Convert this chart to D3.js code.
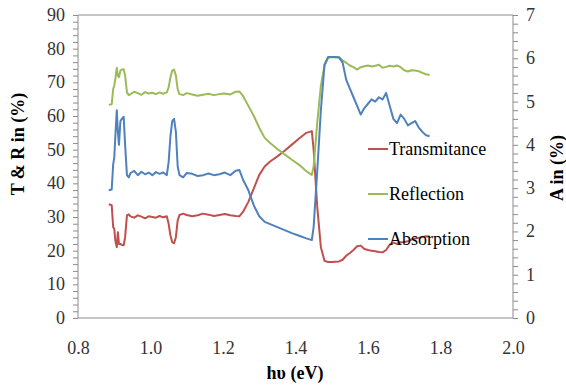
<!DOCTYPE html>
<html>
<head>
<meta charset="utf-8">
<script src="https://cdn.jsdelivr.net/npm/d3@7"></script>
<style>
  body { margin: 0; background: #fff; }
</style>
</head>
<body>
<script>
// photon energy (eV) shared by all three curves
const energy = [0.885, 0.893, 0.897, 0.900, 0.903, 0.907, 0.910, 0.913, 0.917, 0.921, 0.926, 0.930,
  0.935, 0.940, 0.945, 0.955, 0.965, 0.975, 0.985, 0.995, 1.005, 1.015, 1.025, 1.035, 1.045,
  1.050, 1.055, 1.060, 1.065, 1.070, 1.075, 1.080, 1.090, 1.100, 1.115, 1.130, 1.145, 1.160,
  1.175, 1.190, 1.205, 1.220, 1.235, 1.245, 1.255, 1.270, 1.285, 1.300, 1.315, 1.330, 1.350,
  1.370, 1.390, 1.410, 1.430, 1.445, 1.450, 1.460, 1.470, 1.480, 1.490, 1.500, 1.510, 1.520,
  1.530, 1.540, 1.550, 1.560, 1.570, 1.580, 1.590, 1.600, 1.610, 1.620, 1.630, 1.640, 1.650,
  1.660, 1.670, 1.680, 1.690, 1.700, 1.710, 1.720, 1.730, 1.740, 1.750, 1.760, 1.770];

// transmitance, left axis (%)
const transmitance = [33.8, 33.5, 27, 26.5, 23, 21, 25.5, 22, 22, 21.7, 21.6, 24,
  30.5, 30.8, 30.2, 29.8, 30.5, 30.1, 29.6, 30.2, 30.0, 29.8, 30.3, 29.9, 30.2,
  28, 24.5, 22.5, 22.2, 24, 29, 30.6, 31, 30.6, 30.2, 30.5, 31, 30.7,
  30.3, 30.6, 30.9, 30.5, 30.3, 30.2, 31.5, 34.5, 38.5, 42.5, 45, 46.5, 48,
  49.7, 51.5, 53.3, 55, 55.5, 50, 33, 21, 17, 16.6, 16.6, 16.7, 16.8,
  17.3, 18.5, 19.3, 20.2, 21.3, 21.5, 20.5, 20.2, 20, 19.8, 19.6, 19.5, 20.2,
  21.8, 22.4, 22, 22.5, 22.6, 22.8, 23.3, 23.6, 23.8, 24, 24.3, 24.2];

// reflection, left axis (%)
const reflection = [63.3, 63.5, 68, 69, 71, 74.3, 72, 71.5, 73.5, 73.8, 73.9, 72,
  67, 66.2, 66.5, 67.2, 66.8, 66.3, 67.1, 66.7, 66.9, 66.5, 67.0, 66.6, 67.0,
  68.5, 71.5, 73.5, 73.8, 72, 68, 66.5, 66.2, 66.8, 66.4, 66.0, 66.3, 66.6,
  66.2, 66.5, 66.7, 66.4, 67.2, 67.3, 66, 63, 60, 56.5, 53.5, 52, 50.2,
  48.6, 47, 45.5, 43.6, 42.5, 45, 58, 69, 75, 77.3, 77.5, 77.4, 77.5,
  76.5, 75.8, 75, 74.5, 73.8, 74.5, 74.8, 75, 74.7, 74.9, 75.2, 74.3, 74.6,
  74.9, 74.7, 75, 74.5, 73.6, 73.2, 73.6, 73.5, 73.3, 72.8, 72.4, 72.2];

// absorption, right axis (%)
const absorption = [2.95, 2.97, 3.55, 3.7, 4.2, 4.8, 4.3, 4.0, 4.55, 4.6, 4.65, 4.0,
  3.3, 3.25, 3.35, 3.4, 3.3, 3.38, 3.32, 3.36, 3.3, 3.37, 3.33, 3.36, 3.3,
  3.6, 4.2, 4.55, 4.6, 4.3, 3.5, 3.3, 3.25, 3.35, 3.33, 3.28, 3.3, 3.34,
  3.3, 3.32, 3.36, 3.3, 3.4, 3.42, 3.2, 2.95, 2.6, 2.35, 2.22, 2.17, 2.1,
  2.03, 1.96, 1.9, 1.84, 1.8, 2.1, 3.4, 4.8, 5.85, 6.03, 6.03, 6.03, 6.02,
  5.9, 5.5, 5.3, 5.1, 4.9, 4.7, 4.85, 4.95, 5.05, 5.0, 5.1, 5.05, 5.2,
  4.9, 4.6, 4.5, 4.7, 4.6, 4.45, 4.5, 4.55, 4.4, 4.3, 4.22, 4.2];

const xTicks = [0.8, 1.0, 1.2, 1.4, 1.6, 1.8, 2.0];
const leftTicks = [0, 10, 20, 30, 40, 50, 60, 70, 80, 90];
const rightTicks = [0, 1, 2, 3, 4, 5, 6, 7];

const width = 566, height = 385;
const pl = 78, pr = 513, pt = 15, pb = 318;   // plot box edges
const serif = "Liberation Serif";

const svg = d3.select("body").append("svg")
    .attr("width", width)
    .attr("height", height);

const x = d3.scaleLinear().domain([0.8, 2.0]).range([pl, pr]);
const yL = d3.scaleLinear().domain([0, 90]).range([pb, pt]);
const yR = d3.scaleLinear().domain([0, 7]).range([pb, pt]);

const axisCol = "#8c8c8c";
const labelCol = "#333";

// frame: top line
svg.append("line").attr("x1", pl).attr("x2", pr).attr("y1", pt).attr("y2", pt)
    .style("stroke", axisCol);

// left axis, minor ticks every 2
const gl = svg.append("g").attr("transform", `translate(${pl},0)`)
    .call(d3.axisLeft(yL).tickValues(d3.range(0, 91, 2)).tickSize(5).tickFormat(""));
gl.selectAll("line, path").style("stroke", axisCol);
gl.select(".domain").attr("d", `M0,${pt}V${pb}`);

// right axis, minor ticks every 0.2
const gr = svg.append("g").attr("transform", `translate(${pr},0)`)
    .call(d3.axisRight(yR).tickValues(d3.range(0, 36).map(i => i * 0.2)).tickSize(5).tickFormat(""));
gr.selectAll("line, path").style("stroke", axisCol);
gr.select(".domain").attr("d", `M0,${pt}V${pb}`);

// bottom axis, no tick marks
const gb = svg.append("g").attr("transform", `translate(0,${pb})`)
    .call(d3.axisBottom(x).tickValues(xTicks).tickSize(0).tickPadding(23).tickFormat(d3.format(".1f")));
gb.select(".domain").style("stroke", axisCol).attr("d", `M${pl},0H${pr}`);
gb.selectAll("text").style("font-family", serif).style("font-size", "18px").style("fill", labelCol);

// tick labels for the y axes
svg.selectAll(".ylab").data(leftTicks).enter().append("text")
    .attr("x", pl - 13).attr("y", d => yL(d) + 6)
    .attr("text-anchor", "end")
    .style("font-family", serif).style("font-size", "18px").style("fill", labelCol)
    .text(d => d);

svg.selectAll(".rlab").data(rightTicks).enter().append("text")
    .attr("x", pr + 13).attr("y", d => yR(d) + 6)
    .style("font-family", serif).style("font-size", "18px").style("fill", labelCol)
    .text(d => d);

// axis titles
svg.append("text").attr("transform", "translate(24,144) rotate(-90)")
    .attr("text-anchor", "middle")
    .style("font-family", serif).style("font-size", "18px").style("font-weight", "bold")
    .text("T & R in (%)");

svg.append("text").attr("transform", "translate(563,168) rotate(-90)")
    .attr("text-anchor", "middle")
    .style("font-family", serif).style("font-size", "18px").style("font-weight", "bold")
    .text("A in (%)");

svg.append("text").attr("x", 295).attr("y", 379)
    .attr("text-anchor", "middle")
    .style("font-family", serif).style("font-size", "18px").style("font-weight", "bold")
    .text("hυ (eV)");

// the curves
const series = [
  { name: "Transmitance", vals: transmitance, y: yL, color: "#C0504D" },
  { name: "Reflection", vals: reflection, y: yL, color: "#9BBB59" },
  { name: "Absorption", vals: absorption, y: yR, color: "#4F81BD" }
];

series.forEach(s => {
  const line = d3.line().x((d, i) => x(energy[i])).y(d => s.y(d));
  svg.append("path")
      .datum(s.vals)
      .attr("d", line)
      .style("fill", "none")
      .style("stroke", s.color)
      .style("stroke-width", 2)
      .style("stroke-linejoin", "round");
});

// legend
const legY = [149, 194, 239];
series.forEach((s, i) => {
  svg.append("line")
      .attr("x1", 368).attr("x2", 388).attr("y1", legY[i]).attr("y2", legY[i])
      .style("stroke", s.color).style("stroke-width", 2);
  svg.append("text")
      .attr("x", 389).attr("y", legY[i] + 6)
      .style("font-family", serif).style("font-size", "18px").style("fill", "#000")
      .text(s.name);
});
</script>
</body>
</html>
